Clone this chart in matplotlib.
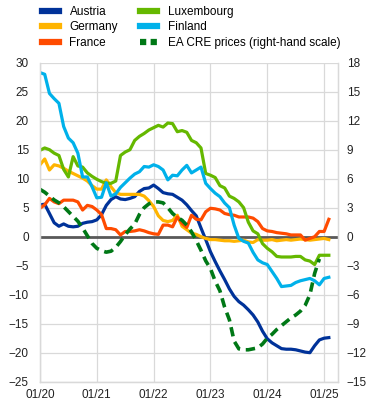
import numpy as np
import matplotlib.pyplot as plt
from matplotlib.lines import Line2D

plt.rcParams['font.family'] = ['Liberation Sans', 'DejaVu Sans']

# monthly observations, Jan 2020 onwards (m = 0 is 01/2020)
austria = [5.5, 5.6, 4.0, 2.4, 1.8, 2.2, 1.8, 1.7, 1.8, 2.3, 2.5, 2.6,
           2.9, 3.8, 5.4, 6.4, 6.9, 6.5, 6.4, 6.6, 6.9, 7.8, 8.3, 8.4,
           8.9, 8.3, 7.6, 7.4, 7.3, 6.8, 6.3, 5.5, 4.5, 3.6, 1.5, -0.5,
           -2.6, -4.3, -5.9, -7.4, -9.0, -10.3, -11.2, -11.8, -12.6, -13.5, -14.7, -16.3,
           -17.6, -18.3, -18.8, -19.3, -19.4, -19.4, -19.5, -19.7, -19.9, -20.0, -18.8, -17.8,
           -17.5, -17.4]
germany = [12.4, 13.4, 11.5, 12.4, 12.2, 11.8, 11.3, 10.9, 10.5, 10.1, 9.6, 8.8,
           8.2, 8.2, 9.8, 8.6, 7.6, 7.3, 7.3, 7.3, 7.3, 7.3, 7.0, 6.2,
           5.2, 3.6, 2.8, 2.6, 2.8, 3.7, 1.8, 1.2, 0.6, 0.4, 0.0, -0.3,
           -0.5, -0.5, -0.6, -0.7, -0.7, -0.8, -0.7, -0.6, -0.9, -1.0, -0.5, -0.6,
           -0.6, -0.5, -0.7, -0.6, -0.5, -0.6, -0.5, -0.4, -0.5, -0.6, -0.5, -0.4,
           -0.3, -0.5]
france = [4.9, 5.5, 6.6, 6.0, 5.7, 6.3, 6.3, 6.3, 6.0, 4.6, 5.4, 5.2,
          4.6, 3.8, 1.4, 1.4, 1.2, 0.3, 0.9, 0.9, 1.0, 1.2, 1.0, 0.7,
          0.5, 0.4, 2.0, 2.0, 1.7, 3.4, 2.3, 1.6, 3.7, 3.0, 2.9, 4.3,
          4.9, 4.8, 4.6, 4.0, 3.8, 3.7, 3.4, 3.4, 3.4, 3.2, 2.6, 1.4,
          1.0, 0.9, 0.7, 0.6, 0.5, 0.3, 0.3, 0.3, -0.6, -0.3, 0.0, 0.9,
          0.9, 3.0]
luxembourg = [14.9, 15.3, 15.0, 14.4, 14.0, 11.6, 10.3, 13.8, 12.2, 12.0, 11.0, 10.4,
              9.9, 9.5, 9.2, 9.2, 9.6, 14.0, 14.6, 15.0, 16.6, 17.3, 17.8, 18.4,
              18.8, 19.2, 18.9, 19.6, 19.5, 18.1, 18.3, 18.0, 16.6, 16.2, 15.3, 10.9,
              10.6, 10.2, 8.8, 8.4, 7.0, 6.6, 6.0, 5.0, 2.5, 1.0, 0.5, -1.2,
              -2.0, -2.6, -3.4, -3.5, -3.5, -3.5, -3.4, -3.4, -4.0, -4.2, -4.8, -3.2,
              -3.2, -3.2]
finland = [28.3, 28.0, 24.7, 23.8, 23.0, 19.0, 17.0, 16.2, 14.4, 10.3, 10.3, 8.6,
           6.7, 6.8, 9.3, 7.0, 7.4, 8.5, 9.3, 10.1, 10.8, 11.2, 12.1, 12.0,
           12.4, 12.1, 11.5, 9.8, 10.6, 10.5, 11.5, 12.3, 11.0, 11.5, 12.0, 9.2,
           8.3, 7.5, 6.9, 5.8, 5.0, 2.0, -0.3, -0.8, -1.1, -2.7, -4.0, -4.5,
           -4.8, -6.0, -7.2, -8.6, -8.5, -8.4, -7.9, -7.6, -7.4, -7.2, -7.6, -8.3,
           -7.2, -7.0]
# EA CRE prices, right-hand scale, Jan 2020 - Dec 2024
ea_cre = [4.9, 4.6, 4.2, 3.8, 3.5, 3.1, 2.6, 2.1, 1.6, 0.9, 0.1, -0.7,
          -1.2, -1.45, -1.6, -1.5, -1.1, -0.5, 0.2, 0.8, 1.3, 2.3, 3.0, 3.4,
          3.6, 3.6, 3.5, 3.0, 2.4, 2.0, 1.7, 1.2, 0.5, -0.4, -1.4, -2.5,
          -3.3, -4.6, -5.6, -7.3, -8.6, -10.8, -11.6, -11.7, -11.7, -11.6, -11.5, -11.1,
          -10.5, -10.1, -9.6, -9.2, -8.8, -8.4, -8.1, -7.7, -7.1, -6.0, -3.8, -2.3]

xtick_labels = ['01/20', '01/21', '01/22', '01/23', '01/24', '01/25']

months = np.arange(len(austria))
cre_months = np.arange(len(ea_cre))

fig = plt.figure(figsize=(3.73, 4.08), dpi=100)
ax = fig.add_axes([0.1072, 0.0645, 0.7998, 0.7818])
ax2 = ax.twinx()

lw = 2.3
series = [('Austria', austria, '#003299'),
          ('Germany', germany, '#FFB400'),
          ('France', france, '#FF4B00'),
          ('Luxembourg', luxembourg, '#65B800'),
          ('Finland', finland, '#00B1EA')]

ax.axhline(0, color='#595959', lw=2, zorder=1)
for name, vals, col in series:
    ax.plot(months, vals, color=col, lw=lw, zorder=2, solid_joinstyle='round')

ax2.plot(cre_months, ea_cre, color='#007816', lw=lw + 0.3, dashes=(2.6, 1.6))

ax.set_xlim(0, 63)
ax.set_ylim(-25, 30)
ax.set_yticks(np.arange(-25, 31, 5))
ax2.set_ylim(-15, 18)
ax2.set_yticks(np.arange(-15, 19, 3))
ax.set_xticks(np.arange(0, 61, 12))
ax.set_xticklabels(xtick_labels)

ax.grid(True, color='#d9d9d9', lw=0.9)
ax.set_axisbelow(True)
for a in (ax, ax2):
    for s in a.spines.values():
        s.set_color('#d9d9d9')
        s.set_linewidth(0.9)
    a.spines['top'].set_visible(False)
    a.tick_params(length=0, labelsize=8.5, colors='#222222')
ax.tick_params(axis='y', pad=8)
ax.tick_params(axis='x', pad=5)
ax2.tick_params(axis='y', pad=6)

handles = [Line2D([], [], color=col, lw=4.5) for _, _, col in series]
handles.append(Line2D([], [], color='#007816', lw=4.5, dashes=(1.0, 0.7)))
labels = [s[0] for s in series] + ['EA CRE prices (right-hand scale)']
fig.legend(handles, labels, loc='upper left', bbox_to_anchor=(0.085, 1.012),
           ncol=2, frameon=False, fontsize=8.5, handlelength=1.4,
           handletextpad=0.9, columnspacing=1.9, labelspacing=0.3)

fig.savefig('out.png', dpi=100)
